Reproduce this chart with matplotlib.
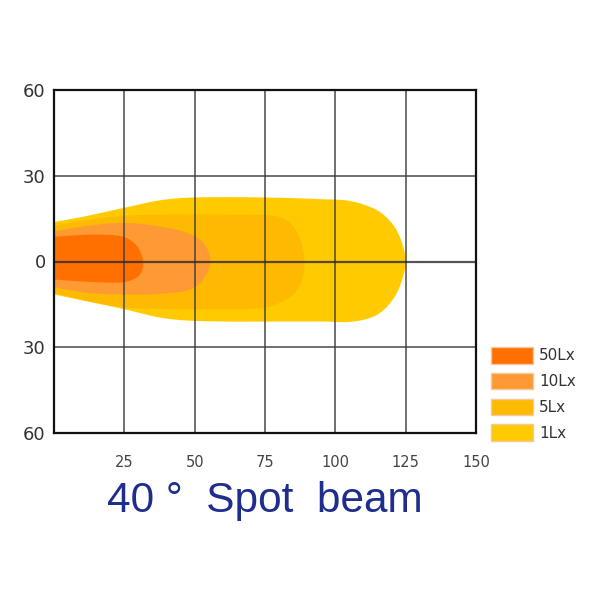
import numpy as np
import matplotlib
matplotlib.use("Agg")
import matplotlib.pyplot as plt
from matplotlib.patches import Polygon, Patch

# ---- data (distance in m, half-widths in m) ----
levels = ["50Lx", "10Lx", "5Lx", "1Lx"]
colors = ["#FF7000", "#FD9A33", "#FDBA00", "#FFCB00"]

lx1_upper_x = [0, 10, 25, 37, 45, 60, 80, 95, 104.4, 111, 116.2, 121, 123.8, 125]
lx1_upper_y = [13.8, 15.6, 18.8, 21.3, 22.2, 22.5, 22.3, 21.8, 21.3, 19.6, 17.1, 12.2, 6.2, 0]
lx1_lower_x = [0, 10, 25, 37, 45, 60, 80, 95, 106.5, 115.1, 121, 123.8, 125]
lx1_lower_y = [-11.5, -13.6, -16.7, -19.5, -20.5, -21.0, -21.0, -21.0, -21.0, -18.5, -12.5, -6.2, 0]

lx5_upper_x = [0, 12, 25, 45, 65, 75, 80, 84.1, 87.6, 89]
lx5_upper_y = [12.5, 14.5, 16.0, 16.5, 16.4, 16.3, 15.6, 13.4, 7.7, 0]
lx5_lower_x = [0, 12, 25, 45, 70, 76, 80.5, 85.1, 88.3, 89]
lx5_lower_y = [-11.0, -13.8, -16.0, -16.7, -16.6, -16.0, -14.3, -11.5, -6.3, 0]

lx10_upper_x = [0, 12, 25, 38, 47.4, 53.1, 55.6]
lx10_upper_y = [10.5, 12.5, 13.5, 12.2, 10.0, 6.6, 0]
lx10_lower_x = [0, 12, 25, 38, 48.4, 53.1, 55.6]
lx10_lower_y = [-9.0, -11.0, -11.5, -11.3, -9.8, -6.3, 0]

lx50_upper_x = [0, 16.4, 25.3, 29.6, 31.7]
lx50_upper_y = [8.7, 9.4, 8.4, 5.2, 0]
lx50_lower_x = [0, 16.4, 26.0, 30.6, 31.7]
lx50_lower_y = [-6.3, -7.3, -7.0, -4.5, 0]

shapes = {
    "1Lx": (lx1_upper_x, lx1_upper_y, lx1_lower_x, lx1_lower_y),
    "5Lx": (lx5_upper_x, lx5_upper_y, lx5_lower_x, lx5_lower_y),
    "10Lx": (lx10_upper_x, lx10_upper_y, lx10_lower_x, lx10_lower_y),
    "50Lx": (lx50_upper_x, lx50_upper_y, lx50_lower_x, lx50_lower_y),
}

x_ticks = [25, 50, 75, 100, 125, 150]
y_ticks = [-60, -30, 0, 30, 60]
y_tick_labels = ["60", "30", "0", "30", "60"]
title = "40 °  Spot  beam"


def outline(ux, uy, lx, ly):
    su = (uy[1] - uy[0]) / (ux[1] - ux[0])
    sl = (ly[1] - ly[0]) / (lx[1] - lx[0])
    pts = [(-6, uy[0] - su * 6)]
    pts += list(zip(ux, uy))
    pts += list(zip(lx[-2::-1], ly[-2::-1]))
    pts += [(-6, ly[0] - sl * 6)]
    return np.array(pts, dtype=float)


def centripetal_closed(pts, n=24, alpha=0.5):
    m = len(pts)
    out = []
    for i in range(m):
        P0 = pts[(i - 1) % m]; P1 = pts[i]
        P2 = pts[(i + 1) % m]; P3 = pts[(i + 2) % m]
        t0 = 0.0
        t1 = t0 + max(np.linalg.norm(P1 - P0), 1e-6) ** alpha
        t2 = t1 + max(np.linalg.norm(P2 - P1), 1e-6) ** alpha
        t3 = t2 + max(np.linalg.norm(P3 - P2), 1e-6) ** alpha
        t = np.linspace(t1, t2, n, endpoint=False)[:, None]
        A1 = (t1 - t) / (t1 - t0) * P0 + (t - t0) / (t1 - t0) * P1
        A2 = (t2 - t) / (t2 - t1) * P1 + (t - t1) / (t2 - t1) * P2
        A3 = (t3 - t) / (t3 - t2) * P2 + (t - t2) / (t3 - t2) * P3
        B1 = (t2 - t) / (t2 - t0) * A1 + (t - t0) / (t2 - t0) * A2
        B2 = (t3 - t) / (t3 - t1) * A2 + (t - t1) / (t3 - t1) * A3
        C = (t2 - t) / (t2 - t1) * B1 + (t - t1) / (t2 - t1) * B2
        out.append(C)
    return np.vstack(out)


fig = plt.figure(figsize=(6, 6), dpi=100)
ax = fig.add_axes([54 / 600, 1 - 433 / 600, 422 / 600, 343 / 600])

for name in ["1Lx", "5Lx", "10Lx", "50Lx"]:
    color = colors[levels.index(name)]
    poly = centripetal_closed(outline(*shapes[name]))
    ax.add_patch(Polygon(poly, closed=True, facecolor=color,
                         edgecolor="none", zorder=1))

ax.set_xlim(0, 150)
ax.set_ylim(-60, 60)
ax.set_xticks(x_ticks)
ax.set_yticks(y_ticks)
ax.set_yticklabels(y_tick_labels)
for xv in x_ticks[:-1]:
    ax.axvline(xv, color="#3a3a3a", lw=1.2, alpha=0.85, zorder=3)
for yv in [-30, 30]:
    ax.axhline(yv, color="#3a3a3a", lw=1.2, alpha=0.85, zorder=3)
ax.axhline(0, color="#2a2a2a", lw=1.6, alpha=0.8, zorder=3)

ax.tick_params(axis="both", length=0)
ax.tick_params(axis="x", pad=16, labelsize=10.5, labelcolor="#444444")
ax.tick_params(axis="y", pad=6, labelsize=13, labelcolor="#333333")
for sp in ax.spines.values():
    sp.set_linewidth(1.6)
    sp.set_color("#111111")
    sp.set_zorder(4)

handles = [Patch(facecolor=c, edgecolor="#f3c9a0", linewidth=1.0, label=n)
           for n, c in zip(levels, colors)]
fig.legend(handles=handles, loc="upper left",
           bbox_to_anchor=(491 / 600, 1 - 347 / 600),
           frameon=False, fontsize=11, labelcolor="#333333",
           handlelength=2.75, handleheight=1.3, handletextpad=0.4,
           labelspacing=0.6, borderpad=0, borderaxespad=0)

fig.text(265 / 600, 1 - 501 / 600, title, ha="center", va="center",
         fontsize=30.5, color="#1f2d8c", family="Liberation Sans")

fig.savefig("out.png", dpi=100, facecolor="white")
